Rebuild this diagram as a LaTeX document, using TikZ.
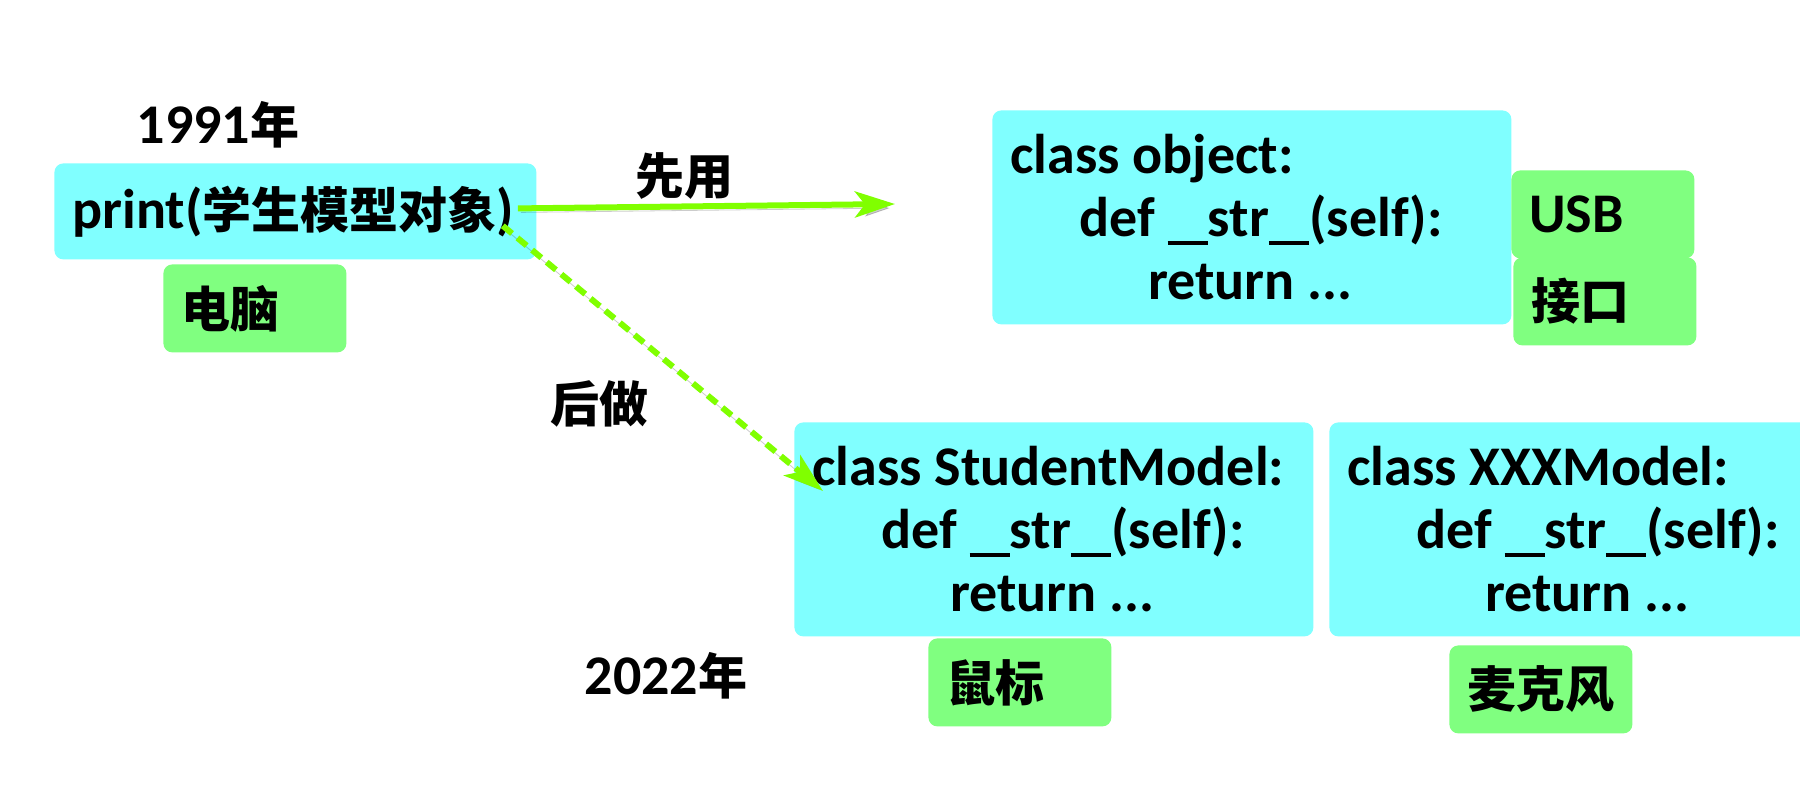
\documentclass[tikz,border=0pt]{standalone}
\usepackage{fontspec}
\setmainfont{Carlito}
\newfontfamily\cjk{Noto Sans CJK SC}
\newcommand{\zh}[1]{{\cjk\fontsize{24.5pt}{31.5pt}\selectfont #1}}
\newcommand{\us}{\rule[-0.14em]{0.36em}{0.07em}}
\usetikzlibrary{arrows.meta}
\definecolor{boxcyan}{HTML}{80FFFF}
\definecolor{boxgreen}{HTML}{80FF80}
\definecolor{linkgreen}{HTML}{80FF00}

\begin{document}
\begin{tikzpicture}[x=0.5pt,y=-0.5pt,
  every node/.style={font=\fontsize{28pt}{31.5pt}\selectfont\bfseries},
  codebox/.style={fill=boxcyan,rounded corners=4.5pt,anchor=north west,inner xsep=9pt,inner ysep=0pt,
    align=flush left,text width=241.5pt,minimum height=107pt},
  tagbox/.style={fill=boxgreen,rounded corners=4.5pt,anchor=north west,inner xsep=9pt,inner ysep=0pt,
    align=flush left,text width=73.5pt,minimum height=44pt},
  link/.style={linkgreen,line width=3pt,-{Stealth[length=20pt,width=13pt,inset=5pt]},
    preaction={draw=black,opacity=0.2,transform canvas={shift={(1.5pt,-2pt)}}}}]
\useasboundingbox (0,0) rectangle (1800,800);
\clip (0,0) rectangle (1800,800);
\fill[white] (0,0) rectangle (1800,800);

\node (year1991) at (218,125) {1991\zh{年}};
\node[codebox,text width=223pt,minimum height=48pt] (print) at (54,163) {print(\zh{学生模型对象})};
\node[tagbox] (pc) at (163,264) {\zh{电脑}};

\node[codebox] (objcls) at (992,110) {class object:\\\hspace*{34.5pt}def \us\us str\us\us(self):\\\hspace*{69pt}return ...};
\node[tagbox] (usb) at (1511,170) {USB};
\node[tagbox] (port) at (1513,257) {\zh{接口}};

\node[codebox] (stucls) at (794,422) {class StudentModel:\\\hspace*{34.5pt}def \us\us str\us\us(self):\\\hspace*{69pt}return ...};
\node[tagbox] (mouse) at (928,638) {\zh{鼠标}};
\node[codebox] (xxxcls) at (1329,422) {class XXXModel:\\\hspace*{34.5pt}def \us\us str\us\us(self):\\\hspace*{69pt}return ...};
\node[tagbox] (mic) at (1449,645) {\zh{麦克风}};
\node (year2022) at (666,676) {2022\zh{年}};

\node (first) at (684,176) {\zh{先用}};
\node (later) at (599,404) {\zh{后做}};
\coordinate (firsttip) at (895,204);

\draw[link] ([xshift=-9.5pt,yshift=1.5pt]print.east) -- (firsttip);
\draw[link,dash pattern=on 6pt off 3.5pt] ([xshift=-17pt,yshift=17pt]print.south east) -- ([xshift=14.5pt,yshift=-34.5pt]stucls.north west);
\end{tikzpicture}
\end{document}
